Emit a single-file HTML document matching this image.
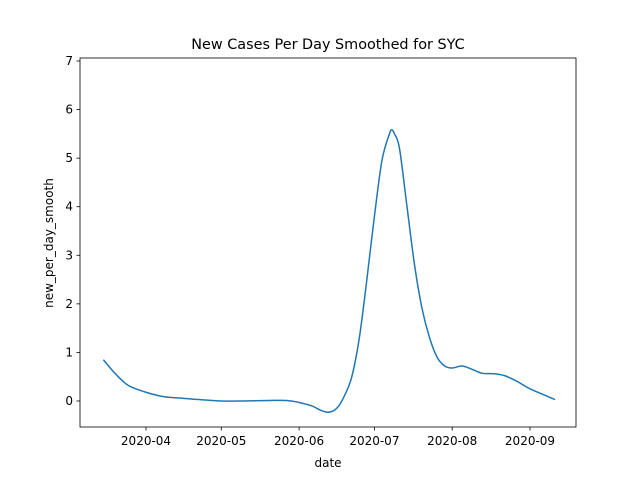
<!DOCTYPE html>
<html><head><meta charset="utf-8"><style>
body{margin:0;background:#fff}
svg text{font-family:"DejaVu Sans","Liberation Sans",sans-serif;fill:#000}
</style></head><body>
<svg id="chart" width="640" height="480">
<rect width="640" height="480" fill="#fff"/>
<text x="328" y="49" font-size="14.4" text-anchor="middle">New Cases Per Day Smoothed for SYC</text>
<g id="plot"></g>
<text x="328" y="467" font-size="12" text-anchor="middle">date</text>
<text transform="translate(53,243) rotate(-90)" font-size="12" text-anchor="middle">new_per_day_smooth</text>
</svg>
<script>
// day offsets relative to 2020-04-01
const days=[-17,-12,-7,0,7,14,21,30,39,49,56,61,66,70,73,76,79,82,85,88,91,94,97,98,99,101,104,107,110,113,116,119,122,126,130,134,139,143,148,153,163];
const values=[0.85,0.55,0.32,0.18,0.09,0.06,0.03,0.0,0.0,0.01,0.01,-0.03,-0.1,-0.2,-0.23,-0.15,0.1,0.5,1.3,2.5,3.8,4.95,5.5,5.58,5.5,5.2,4.0,2.8,1.9,1.3,0.9,0.72,0.68,0.72,0.65,0.57,0.56,0.52,0.4,0.25,0.03];
const yTicks=[0,1,2,3,4,5,6,7];
const xTickLabels=["2020-04","2020-05","2020-06","2020-07","2020-08","2020-09"];
const xTickDays=[0,30,61,91,122,153];

const L=80,R=576,T=58,B=427;
const xs=d=>146+d*(530-146)/153;
const ys=v=>401-v*48.57;
const ns="http://www.w3.org/2000/svg";
const g=document.getElementById('plot');
function mk(t,a){const e=document.createElementNS(ns,t);for(const k in a)e.setAttribute(k,a[k]);g.appendChild(e);return e;}
yTicks.forEach(v=>{
 const l=mk('line',{x1:L-3.5,x2:L,y1:ys(v),y2:ys(v),stroke:'#000','stroke-width':0.8});
 
 
 const t=mk('text',{x:L-7,y:ys(v)+4,'font-size':12,'text-anchor':'end'});
 t.textContent=v;
 
 
});
xTickDays.forEach((d,i)=>{
 const l=mk('line',{x1:xs(d),x2:xs(d),y1:B,y2:B+3.5,stroke:'#000','stroke-width':0.8});
 
 
 const t=mk('text',{x:xs(d),y:B+18,'font-size':12,'text-anchor':'middle'});
 t.textContent=xTickLabels[i];
 
 
});
let d='';
for(let i=0;i<days.length;i++){
 const x=xs(days[i]),y=ys(values[i]);
 if(i===0){d+=`M${x},${y}`;continue;}
 const x0=xs(days[i-1]),y0=ys(values[i-1]);
 const xm=xs(days[Math.max(0,i-2)]),ym=ys(values[Math.max(0,i-2)]);
 const xp=xs(days[Math.min(days.length-1,i+1)]),yp=ys(values[Math.min(days.length-1,i+1)]);
 const c1x=x0+(x-xm)/6,c1y=y0+(y-ym)/6,c2x=x-(xp-x0)/6,c2y=y-(yp-y0)/6;
 d+=`C${c1x},${c1y} ${c2x},${c2y} ${x},${y}`;
}
const p=mk('path',{d:d,fill:'none',stroke:'#1f77b4','stroke-width':1.5});


const f=mk('rect',{x:L,y:T,width:R-L,height:B-T,fill:'none',stroke:'#000','stroke-width':0.8});


</script>
</body></html>
